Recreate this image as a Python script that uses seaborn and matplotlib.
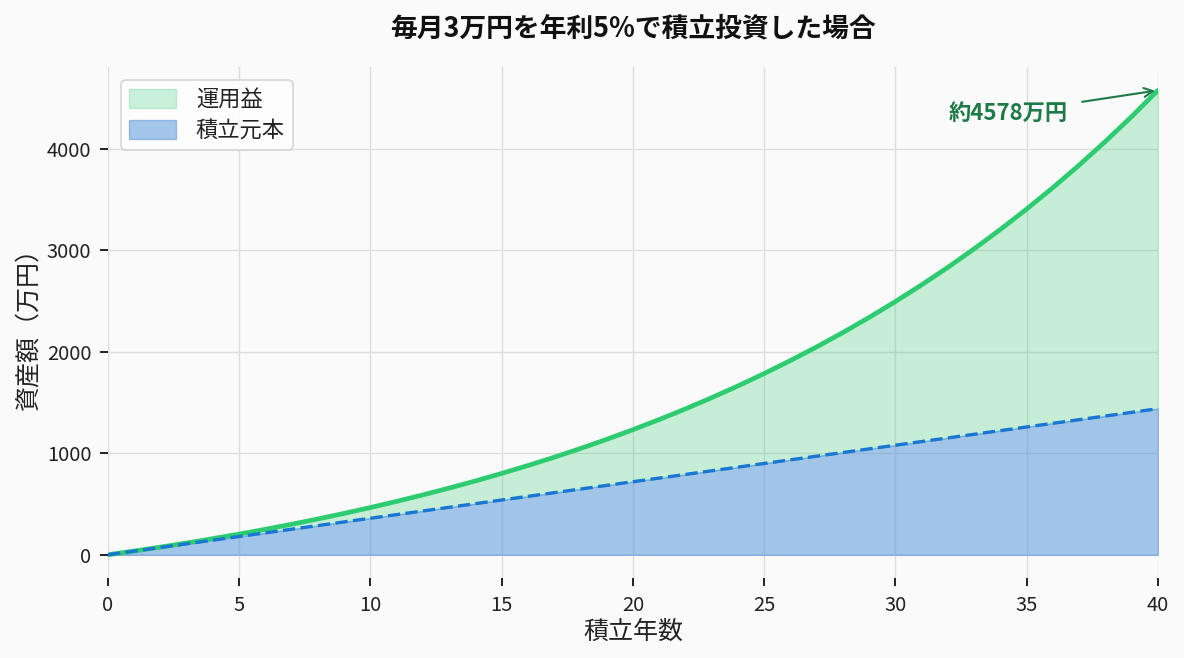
import numpy as np
import pandas as pd
import matplotlib
matplotlib.use("Agg")
import matplotlib.pyplot as plt
import seaborn as sns

years = list(range(0, 41))
total_value = [0, 36.8, 75.6, 116.3, 159.0, 204.0, 251.3, 301.0, 353.2, 408.1,
               465.8, 526.5, 590.3, 657.3, 727.8, 801.9, 879.7, 961.5, 1047.6, 1138.0,
               1233.1, 1333.0, 1438.0, 1548.4, 1664.5, 1786.4, 1914.7, 2049.4, 2191.1, 2340.0,
               2496.6, 2661.1, 2834.1, 3016.1, 3207.5, 3408.4, 3619.6, 3841.7, 4075.2, 4320.4,
               4578.3]
principal = [0, 36, 72, 108, 144, 180, 216, 252, 288, 324,
             360, 396, 432, 468, 504, 540, 576, 612, 648, 684,
             720, 756, 792, 828, 864, 900, 936, 972, 1008, 1044,
             1080, 1116, 1152, 1188, 1224, 1260, 1296, 1332, 1368, 1404,
             1440]
title = "毎月3万円を年利5%で積立投資した場合"
xlabel = "積立年数"
ylabel = "資産額（万円）"
label_gain = "運用益"
label_principal = "積立元本"
annot_text = "約4578万円"

df = pd.DataFrame({"year": years, "total": total_value, "principal": principal})

sns.set_theme(style="whitegrid")
plt.rcParams['font.family'] = ['Noto Sans CJK JP', 'DejaVu Sans']
bg = "#fafafa"
fig, ax = plt.subplots(figsize=(11.84, 6.58), dpi=100)
fig.patch.set_facecolor(bg)
ax.set_facecolor(bg)

green = "#2ecc71"
blue_line = "#1976d2"
ax.fill_between(df["year"], df["principal"], df["total"], color=green, alpha=0.25, label=label_gain)
ax.fill_between(df["year"], 0, df["principal"], color="#4a90d9", alpha=0.5, label=label_principal)
sns.lineplot(data=df, x="year", y="total", ax=ax, color=green, linewidth=3.4, legend=False)
sns.lineplot(data=df, x="year", y="principal", ax=ax, color=blue_line, linewidth=2.4,
             linestyle="--", legend=False)

ax.set_xlim(0, 40)
ax.set_xticks(range(0, 41, 5))
ax.set_yticks([0, 1000, 2000, 3000, 4000])
ax.grid(True, color="#dddddd", linewidth=1)
for s in ax.spines.values():
    s.set_visible(False)
ax.tick_params(axis="both", which="both", length=6, width=1.4, color="#222222",
               labelsize=14.5, labelcolor="#222222", bottom=True, left=True, pad=6)
ax.set_xlabel(xlabel, fontsize=18, color="#222222", labelpad=2)
ax.set_ylabel(ylabel, fontsize=18, color="#222222", labelpad=4)
ax.set_title(title, fontsize=19.3, fontweight="bold", pad=22, color="#111111")

ax.annotate(annot_text, xy=(years[-1], total_value[-1]), xytext=(34.3, 4355),
            fontsize=16, fontweight="bold", color="#1e7a46", ha="center", va="center",
            arrowprops=dict(arrowstyle="->", color="#1e7a46", lw=1.5, shrinkA=8, shrinkB=2))

leg = ax.legend(loc="upper left", frameon=True, facecolor="white",
                edgecolor="#cccccc", handlelength=2.1, handleheight=0.9, borderaxespad=0.6,
                labelspacing=0.35, borderpad=0.35, handletextpad=0.9,
                prop={"size": 16})
for t in leg.get_texts():
    t.set_color("#222222")
leg.get_frame().set_linewidth(1.2)

fig.subplots_adjust(left=0.0912, right=0.978, top=0.898, bottom=0.1216)
fig.savefig("out.png", dpi=100, facecolor=bg)
